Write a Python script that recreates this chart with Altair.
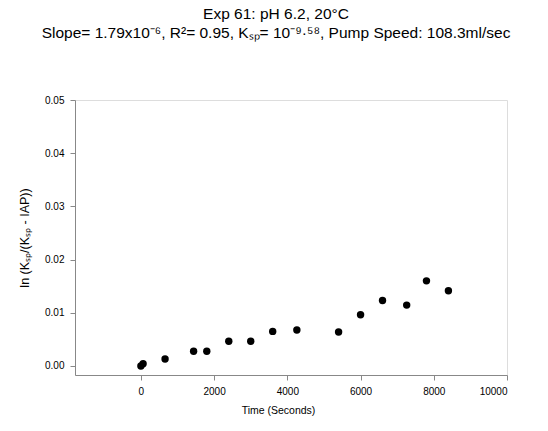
import altair as alt
import pandas as pd

times = [0, 60, 660, 1440, 1800, 2400, 3000, 3600, 4260, 5400, 6000, 6600, 7260, 7800, 8400]
values = [0.0000, 0.0004, 0.0013, 0.00275, 0.00275, 0.00463, 0.00463, 0.0065, 0.00675,
          0.00638, 0.00963, 0.0123, 0.01144, 0.0160, 0.01413]
x_ticks = [0, 2000, 4000, 6000, 8000, 10000]
y_ticks = [0.00, 0.01, 0.02, 0.03, 0.04, 0.05]

df = pd.DataFrame({"t": times, "v": values})

FONT = "Liberation Sans"

chart = alt.Chart(df).mark_point(filled=True, color="black", opacity=1, size=55).encode(
    x=alt.X("t:Q", scale=alt.Scale(domain=[-1800, 10000], nice=False, zero=False),
            axis=alt.Axis(values=x_ticks, title="Time (Seconds)", format="d", grid=False,
                          titleX=203, titlePadding=9, titleFontWeight="normal",
                          titleFont=FONT, titleFontSize=10.5, labelPadding=6)),
    y=alt.Y("v:Q", scale=alt.Scale(domain=[-0.0017, 0.05], nice=False, zero=False),
            axis=alt.Axis(values=y_ticks, title="ln (Kₛₚ/(Kₛₚ - IAP))", format=".2f", grid=False,
                          titlePadding=13, titleFontWeight="normal",
                          titleFont=FONT, titleFontSize=12.5, labelPadding=6)),
).properties(
    width=432, height=275,
    title=alt.TitleParams(
        text=["Exp 61: pH 6.2, 20°C",
              "Slope= 1.79x10⁻⁶, R²= 0.95, Kₛₚ= 10⁻⁹·⁵⁸, Pump Speed: 108.3ml/sec"],
        font=FONT, fontSize=15.5, fontWeight="normal", color="black",
        anchor="middle", dx=-15, offset=54, lineHeight=19),
    autosize=alt.AutoSizeParams(type="none"),
    padding={"left": 75, "top": 100, "right": 41, "bottom": 56},
).configure_view(
    stroke="black", strokeWidth=1
).configure_axis(
    domain=False, tickColor="black", tickSize=5, tickWidth=1,
    labelFont=FONT, labelFontSize=11, labelColor="black",
    titleColor="black"
).configure(background="white")

chart.save("out.html", embed_options={"renderer": "svg", "actions": False})
